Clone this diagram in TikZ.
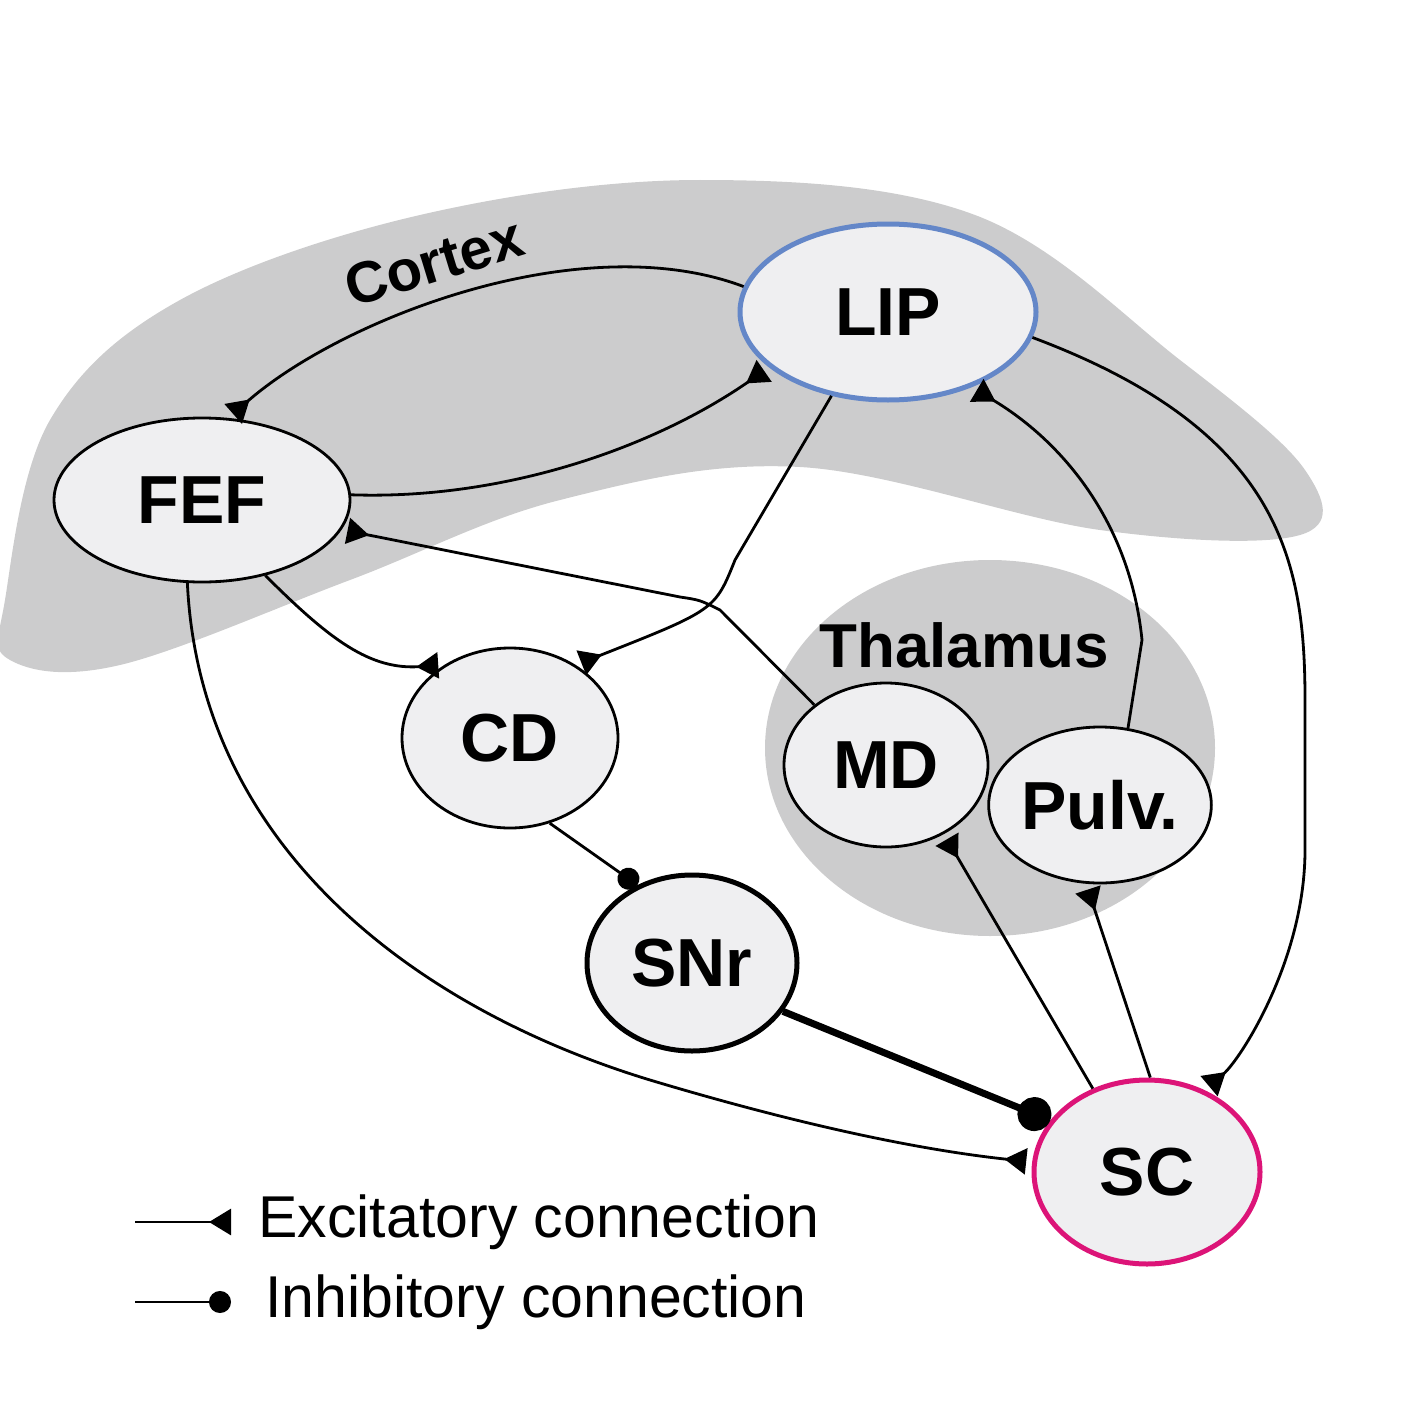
\documentclass[tikz,border=0pt]{standalone}
\usepackage{fontspec}
\setmainfont{Liberation Sans}
\usetikzlibrary{arrows.meta,shapes.geometric}
\definecolor{cortexgray}{RGB}{204,204,205}
\definecolor{nodefill}{RGB}{239,239,241}
\definecolor{lipblue}{RGB}{100,135,200}
\definecolor{scmag}{RGB}{220,20,120}
\begin{document}
\begin{tikzpicture}[x=1pt,y=-1pt,
  nd/.style={ellipse,draw=black,line width=2.8pt,fill=nodefill,inner sep=0pt,font=\fontsize{68}{68}\bfseries\selectfont},
  con/.style={line width=2.8pt},
  exc/.style={con,-{Triangle[reversed,length=22pt,width=26pt]},shorten >=6pt},
  inh/.style={con,-{Circle[length=22pt]}}]
\useasboundingbox (0,0) rectangle (1410,1407);
% cortex
\fill[cortexgray] plot[smooth cycle,tension=0.6] coordinates{
 (5,600) (50,420) (180,300) (420,215) (700,180) (975,215) (1180,360) (1305,470) (1300,535)
 (1100,530) (800,467) (560,500) (350,580) (120,665) (10,660)};
\fill[cortexgray] (990,748) ellipse[x radius=225,y radius=188];
\node[rotate=17,font=\fontsize{58}{58}\bfseries\selectfont] (cx) at (434,262) {Cortex};
\node[font=\fontsize{62}{62}\bfseries\selectfont] (th) at (964,645) {Thalamus};
% nodes
\node[nd,draw=lipblue,line width=5pt,minimum width=296pt,minimum height=176pt] (LIP) at (888,312) {LIP};
\node[nd,minimum width=296pt,minimum height=164pt] (FEF) at (202,500) {FEF};
\node[nd,minimum width=216pt,minimum height=180pt] (CD) at (510,738) {CD};
\node[nd,minimum width=204pt,minimum height=164pt] (MD) at (886,765) {MD};
\node[nd,minimum width=204pt,minimum height=156pt] (PU) at (1100,805) {Pulv.};
\node[nd,line width=5pt,minimum width=210pt,minimum height=176pt] (SN) at (692,963) {SNr};
\node[nd,draw=scmag,line width=5pt,minimum width=226pt,minimum height=184pt] (SC) at (1147,1172) {SC};
% connectors
\draw[exc] (LIP.170) .. controls (580,225) and (340,320) .. (FEF.72);
\draw[exc] (FEF.2) .. controls (500,500) and (650,450) .. (LIP.205);
\draw[exc] (LIP.236) -- (735,560) .. controls (715,610) .. (CD.48);
\draw[exc] (FEF.-50) .. controls (330,640) and (370,670) .. (CD.132);
\draw[exc] (MD.140) -- (720,610) .. controls (700,600) .. (680,597) -- (FEF.-12);
\draw[exc] (PU.70) -- (1142,640) .. controls (1130,520) and (1060,440) .. (LIP.-42);
\draw[exc] (LIP.-10) .. controls (1280,430) and (1305,560) .. (1305,700) -- (1305,850) .. controls (1305,960) and (1240,1060) .. (SC.55);
\draw[exc] (FEF.-100) .. controls (200,850) and (420,1010) .. (650,1080) .. controls (800,1125) and (920,1150) .. (SC.175);
\draw[inh] (CD.-65) -- (SN.125);
\draw[line width=7pt,-{Circle[length=34pt]}] (SN.-28) -- (SC.152);
\draw[exc] (SC.123) -- (MD.-50);
\draw[exc] (SC.88) -- (PU.-100);
% legend
\coordinate (l1a) at (135,1222); \coordinate (l1b) at (231,1222);
\coordinate (l2a) at (135,1302); \coordinate (l2b) at (231,1302);
\draw[con,-{Triangle[reversed,length=22pt,width=26pt]}] (l1a) -- (l1b);
\draw[con,-{Circle[length=22pt]}] (l2a) -- (l2b);
\node[anchor=west,font=\fontsize{59}{59}\selectfont] (t1) at (255,1222) {Excitatory connection};
\node[anchor=west,font=\fontsize{59}{59}\selectfont] (t2) at (262,1302) {Inhibitory connection};
\end{tikzpicture}
\end{document}
